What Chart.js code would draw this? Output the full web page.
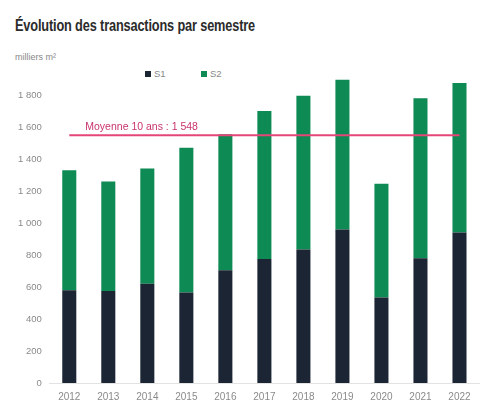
<!DOCTYPE html>
<html>
<head>
<meta charset="utf-8">
<script src="https://cdn.jsdelivr.net/npm/chart.js@4/dist/chart.umd.min.js"></script>
<style>
  body { margin:0; background:#fff; }
  #wrap { position:relative; width:489px; height:407px; overflow:hidden; }
  #mycanvas { position:absolute; left:0; top:0; }
  .title { position:absolute; left:15px; top:16px; font-family:"Liberation Sans Narrow", sans-serif; font-weight:bold; font-size:17px; color:#2b2b2b; white-space:nowrap; transform-origin:left top; transform:scaleX(0.75); letter-spacing:-0.2px; }
  .unit { position:absolute; left:15px; top:52px; font-family:"Liberation Sans", sans-serif; font-size:9px; color:#888; }
  .leg { position:absolute; top:68px; font-family:"Liberation Sans", sans-serif; font-size:9.5px; color:#888; }
  .leg span { display:inline-block; width:6px; height:6px; margin-right:3px; vertical-align:0px; }
</style>
</head>
<body>
<div id="wrap">
  <div class="title">Évolution des transactions par semestre</div>
  <div class="unit">milliers m²</div>
  <div class="leg" style="left:145px"><span style="background:#1c2533"></span>S1</div>
  <div class="leg" style="left:201px"><span style="background:#0e8a55"></span>S2</div>
  <canvas id="mycanvas" width="489" height="412"></canvas>
</div>
<script>
var years=["2012","2013","2014","2015","2016","2017","2018","2019","2020","2021","2022"];
var s1=[580,575,620,565,705,775,835,960,535,780,940];
var s2=[750,685,720,905,850,925,960,935,710,1000,935];
var moyenne=1548;
var moyenneLabel="Moyenne 10 ans : 1 548";

function fmt(v){
	return String(v).replace(/\B(?=(\d{3})+(?!\d))/g," ");
}

var moyLabelPlugin={
	id:'moyLabel',
	afterDatasetsDraw:function(chart){
		var ctx=chart.ctx;
		var x=chart.scales.x.getPixelForValue(0);
		var y=chart.scales.y.getPixelForValue(moyenne);
		ctx.save();
		ctx.fillStyle='#c8336f';
		ctx.font='10.5px "Liberation Sans", sans-serif';
		ctx.textBaseline='bottom';
		ctx.fillText(moyenneLabel,x+16,y-3);
		ctx.restore();
	}
};

var chartdata={
	labels:years,
	datasets:[
	{
		type:'line',
		label:'Moyenne',
		data:years.map(function(){return moyenne;}),
		borderColor:'#e4467a',
		borderWidth:2,
		pointRadius:0,
		order:0
	},
	{
		label:'S1',
		backgroundColor:'#1c2533',
		data:s1,
		order:1
	},
	{
		label:'S2',
		backgroundColor:'#0e8a55',
		data:s2,
		order:1
	}
	]
};

var ctx=document.getElementById("mycanvas");
var barGraph=new Chart(ctx,{
	type:'bar',
	data:chartdata,
	options:{
		responsive:false,
		animation:false,
		layout:{padding:{top:79,left:10,right:10,bottom:1}},
		plugins:{legend:{display:false},tooltip:{enabled:false}},
		datasets:{bar:{barPercentage:0.9,categoryPercentage:0.4}},
		scales:{
			x:{
				stacked:true,
				grid:{display:false,drawTicks:false},
				border:{color:'#e2e2e2'},
				ticks:{color:'#8a8a8a',font:{size:10,family:'Liberation Sans'},padding:8,maxRotation:0}
			},
			y:{
				stacked:true,
				min:0,max:1900,
				grid:{display:false,drawTicks:false},
				border:{display:false},
				afterBuildTicks:function(axis){
					axis.ticks=axis.ticks.filter(function(t){return t.value%200===0;});
				},
				ticks:{stepSize:200,color:'#8a8a8a',font:{size:9.5,family:'Liberation Sans'},padding:8,
					callback:function(v){return fmt(v);}}
			}
		}
	},
	plugins:[moyLabelPlugin]
});
</script>
</body>
</html>
